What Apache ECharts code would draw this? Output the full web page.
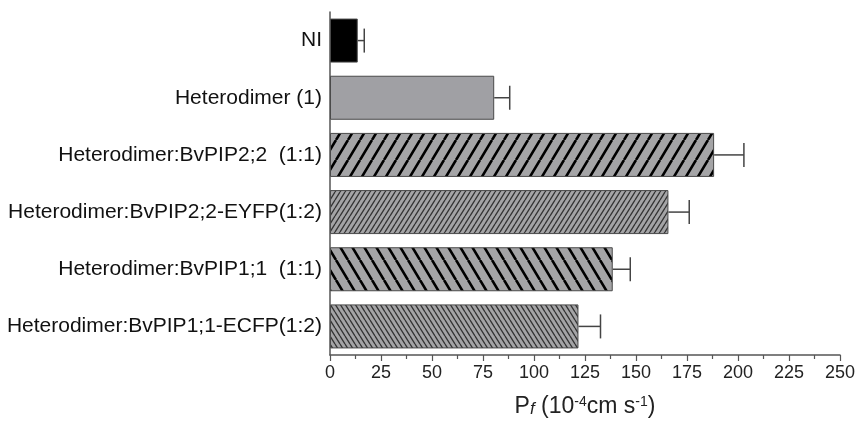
<!DOCTYPE html>
<html>
<head>
<meta charset="utf-8">
<script src="https://cdn.jsdelivr.net/npm/echarts@6/dist/echarts.min.js"></script>
<style>
  html, body { margin: 0; padding: 0; background: #fff; }
  #main { width: 858px; height: 429px; }
</style>
</head>
<body>
<div id="main"></div>
<script>
const categories = [
  'NI',
  'Heterodimer (1)',
  'Heterodimer:BvPIP2;2  (1:1)',
  'Heterodimer:BvPIP2;2-EYFP(1:2)',
  'Heterodimer:BvPIP1;1  (1:1)',
  'Heterodimer:BvPIP1;1-ECFP(1:2)'
];
const means = [13.6, 80.5, 188.3, 165.9, 138.6, 121.8];
const errors = [3.2, 7.6, 14.6, 10.2, 8.6, 10.8];
const xMin = 0;
const xMax = 250;
const xStep = 25;

// diagonal hatch tile: w = horizontal spacing, h = rise, dir 1 = '/', -1 = '\'
function hatch(w, h, lw, lineColor, dir) {
  const c = document.createElement('canvas');
  c.width = w;
  c.height = h;
  const ctx = c.getContext('2d');
  ctx.fillStyle = '#a4a4a6';
  ctx.fillRect(0, 0, w, h);
  ctx.strokeStyle = lineColor;
  ctx.lineWidth = lw;
  ctx.beginPath();
  for (let k = -1; k <= 1; k++) {
    if (dir > 0) {
      ctx.moveTo(k * w, h);
      ctx.lineTo(k * w + w, 0);
    } else {
      ctx.moveTo(k * w, 0);
      ctx.lineTo(k * w + w, h);
    }
  }
  ctx.stroke();
  return { image: c, repeat: 'repeat' };
}

const fills = [
  '#000000',
  '#a0a0a4',
  hatch(12, 20, 2.6, '#000', 1),
  hatch(5, 8, 1.3, '#333', 1),
  hatch(12, 20, 2.6, '#000', -1),
  hatch(5, 8, 1.3, '#333', -1)
];

const myChart = echarts.init(document.getElementById('main'));
const option = {
  animation: false,
  backgroundColor: '#fff',
  grid: { left: 330, right: 16, top: 12, bottom: 74 },
  xAxis: {
    type: 'value',
    min: xMin,
    max: xMax,
    interval: xStep,
    name: 'P{f|f} (10{s|-4}cm s{s|-1})',
    nameLocation: 'middle',
    nameGap: 40,
    nameTextStyle: {
      fontFamily: 'Liberation Sans',
      fontSize: 23,
      color: '#222',
      rich: {
        f: { fontFamily: 'Liberation Sans', fontSize: 17, fontStyle: 'italic', verticalAlign: 'bottom', color: '#222' },
        s: { fontFamily: 'Liberation Sans', fontSize: 14, verticalAlign: 'top', color: '#222' }
      }
    },
    splitLine: { show: false },
    axisLine: { show: true, lineStyle: { color: '#555', width: 1.5 } },
    axisTick: { show: true, inside: false, length: 6, lineStyle: { color: '#555', width: 1.2 } },
    minorTick: { show: true, splitNumber: 2, length: 4, lineStyle: { color: '#555', width: 1.2 } },
    axisLabel: { fontFamily: 'Liberation Sans', fontSize: 18, color: '#222', margin: 9 }
  },
  yAxis: {
    type: 'category',
    inverse: true,
    data: categories,
    axisLine: { show: true, lineStyle: { color: '#555', width: 1.5 } },
    axisTick: { show: false },
    axisLabel: { fontFamily: 'Liberation Sans', fontSize: 21, color: '#111', margin: 8 }
  },
  series: [
    {
      type: 'bar',
      barCategoryGap: '23%',
      data: means.map((v, i) => ({
        value: v,
        itemStyle: { color: fills[i], borderColor: '#4a4a4a', borderWidth: 1 }
      })),
      z: 2
    },
    {
      type: 'custom',
      z: 3,
      data: means.map((v, i) => [v, i, errors[i]]),
      encode: { x: 0, y: 1 },
      renderItem: function (params, api) {
        const start = api.coord([api.value(0), api.value(1)]);
        const end = api.coord([api.value(0) + api.value(2), api.value(1)]);
        const half = 12;
        const style = { stroke: '#444', lineWidth: 1.5 };
        return {
          type: 'group',
          children: [
            { type: 'line', shape: { x1: start[0], y1: start[1], x2: end[0], y2: end[1] }, style: style },
            { type: 'line', shape: { x1: end[0], y1: end[1] - half, x2: end[0], y2: end[1] + half }, style: style }
          ]
        };
      }
    }
  ]
};
myChart.setOption(option);
</script>
</body>
</html>
